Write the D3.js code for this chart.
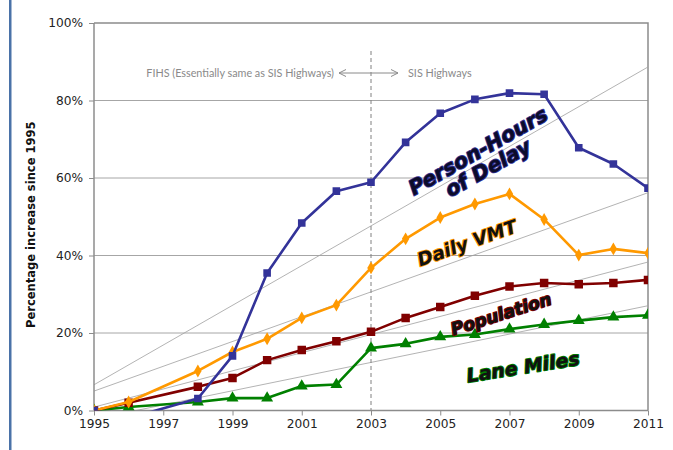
<!DOCTYPE html>
<html>
<head>
<meta charset="utf-8">
<script src="https://cdn.jsdelivr.net/npm/d3@7/dist/d3.min.js"></script>
<style>
  html, body { margin: 0; padding: 0; background: #ffffff; }
  svg { display: block; }
</style>
</head>
<body>
<svg id="chart" width="673" height="450"></svg>
<script>
// Percentage increase since 1995 (no 1997 observation)
const years = [1995, 1996, 1998, 1999, 2000, 2001, 2002, 2003, 2004, 2005, 2006, 2007, 2008, 2009, 2010, 2011];
const delay      = [0, -2.0, 3.1, 14.1, 35.5, 48.4, 56.6, 58.9, 69.2, 76.7, 80.3, 81.9, 81.6, 67.8, 63.6, 57.4];
const dailyVMT   = [0, 2.2, 10.2, 15.1, 18.5, 23.9, 27.2, 36.8, 44.3, 49.8, 53.3, 55.9, 49.3, 40.1, 41.7, 40.6];
const population = [0, 2.0, 6.1, 8.4, 13.0, 15.6, 17.9, 20.3, 23.9, 26.7, 29.6, 32.0, 32.9, 32.6, 32.9, 33.7];
const laneMiles  = [0, 0.9, 2.2, 3.2, 3.2, 6.3, 6.7, 16.1, 17.2, 19.0, 19.6, 21.0, 22.2, 23.2, 24.1, 24.6];

const xTicks = [1995, 1997, 1999, 2001, 2003, 2005, 2007, 2009, 2011];
const yTicks = [0, 20, 40, 60, 80, 100];
const splitYear = 2003;

const series = [
  { name: "delay", values: delay, color: "#333399", symbol: d3.symbolSquare, size: 58 },
  { name: "vmt", values: dailyVMT, color: "#FF9900", symbol: d3.symbolDiamond, size: 48 },
  { name: "population", values: population, color: "#800000", symbol: d3.symbolSquare, size: 72 },
  { name: "lane", values: laneMiles, color: "#008000", symbol: d3.symbolTriangle, size: 62 }
];

const svg = d3.select("#chart");
const plotLeft = 94, plotRight = 648, plotTop = 23, plotBottom = 410.5;

const x = d3.scaleLinear().domain([1995, 2011]).range([plotLeft, plotRight]);
const y = d3.scaleLinear().domain([0, 100]).range([plotBottom, plotTop]);

// page edge rule
svg.append("rect").attr("x", 9).attr("y", 0).attr("width", 2.5).attr("height", 450)
  .attr("fill", "#4a72a8");

svg.append("defs").append("clipPath").attr("id", "plotClip")
  .append("rect").attr("x", plotLeft).attr("y", plotTop)
  .attr("width", plotRight - plotLeft).attr("height", plotBottom - plotTop);

// horizontal gridlines
svg.append("g").selectAll("line").data(yTicks.filter(t => t > 0 && t < 100)).join("line")
  .attr("x1", plotLeft).attr("x2", plotRight)
  .attr("y1", d => y(d)).attr("y2", d => y(d))
  .attr("stroke", "#a6a6a6").attr("stroke-width", 1);

// plot frame (top and right)
svg.append("path")
  .attr("d", `M${plotLeft},${plotTop}H${plotRight}V${plotBottom}`)
  .attr("fill", "none").attr("stroke", "#8c8c8c").attr("stroke-width", 1.5);

// linear trend lines
const tExtent = [1995, 2011];
const trendG = svg.append("g").attr("clip-path", "url(#plotClip)");
series.forEach(s => {
  const mx = d3.mean(years), my = d3.mean(s.values);
  let sxy = 0, sxx = 0;
  years.forEach((yr, i) => { sxy += (yr - mx) * (s.values[i] - my); sxx += (yr - mx) * (yr - mx); });
  const slope = sxy / sxx, icpt = my - slope * mx;
  trendG.append("line")
    .attr("x1", x(tExtent[0])).attr("y1", y(icpt + slope * tExtent[0]))
    .attr("x2", x(tExtent[1])).attr("y2", y(icpt + slope * tExtent[1]))
    .attr("stroke", "#a0a0a0").attr("stroke-width", 0.8);
});

// FIHS / SIS divider
svg.append("line")
  .attr("x1", x(splitYear)).attr("x2", x(splitYear))
  .attr("y1", 51).attr("y2", plotBottom)
  .attr("stroke", "#808080").attr("stroke-width", 1).attr("stroke-dasharray", "4,3");

const noteY = 73;
svg.append("text").attr("x", 334).attr("y", noteY + 3.5)
  .attr("text-anchor", "end").attr("font-family", "Lato, 'Open Sans', sans-serif")
  .attr("font-size", 10.8).attr("fill", "#8a8a8a")
  .text("FIHS (Essentially same as SIS Highways)");
svg.append("text").attr("x", 408).attr("y", noteY + 3.5)
  .attr("font-family", "Lato, 'Open Sans', sans-serif")
  .attr("font-size", 10.8).attr("fill", "#8a8a8a")
  .text("SIS Highways");
const arrowG = svg.append("g").attr("stroke", "#8a8a8a").attr("fill", "none").attr("stroke-width", 1);
arrowG.append("line").attr("x1", 339).attr("x2", 398).attr("y1", noteY).attr("y2", noteY);
arrowG.append("path").attr("d", `M346,${noteY - 3.5}L339,${noteY}L346,${noteY + 3.5}`);
arrowG.append("path").attr("d", `M391,${noteY - 3.5}L398,${noteY}L391,${noteY + 3.5}`);

// axis lines
svg.append("line").attr("x1", plotLeft).attr("x2", plotLeft).attr("y1", plotTop).attr("y2", plotBottom)
  .attr("stroke", "#8c8c8c").attr("stroke-width", 1.5);
svg.append("line").attr("x1", plotLeft).attr("x2", plotRight).attr("y1", plotBottom).attr("y2", plotBottom)
  .attr("stroke", "#8c8c8c").attr("stroke-width", 1.5);

// y axis
const yAxis = d3.axisLeft(y).tickValues(yTicks).tickSize(5).tickPadding(6)
  .tickFormat(d => d + "%");
const yg = svg.append("g").attr("transform", `translate(${plotLeft},0)`).call(yAxis);
yg.select(".domain").remove();
yg.selectAll(".tick line").attr("stroke", "#8c8c8c");
yg.selectAll(".tick text").attr("font-family", "'DejaVu Sans', Verdana, sans-serif")
  .attr("font-size", 12.2).attr("fill", "#222");

// x axis
const xAxis = d3.axisBottom(x).tickValues(xTicks).tickSize(5).tickPadding(4)
  .tickFormat(d3.format("d"));
const xg = svg.append("g").attr("transform", `translate(0,${plotBottom})`).call(xAxis);
xg.select(".domain").remove();
xg.selectAll(".tick line").attr("stroke", "#8c8c8c");
xg.selectAll(".tick text").attr("font-family", "'DejaVu Sans', Verdana, sans-serif")
  .attr("font-size", 12.2).attr("fill", "#222");

// y axis title
svg.append("text")
  .attr("transform", `translate(35,${(plotTop + plotBottom) / 2 + 8}) rotate(-90)`)
  .attr("text-anchor", "middle")
  .attr("font-family", "'DejaVu Sans', Verdana, sans-serif")
  .attr("font-weight", "bold").attr("font-size", 11.5).attr("fill", "#111")
  .text("Percentage increase since 1995");

// series lines and markers
const plotG = svg.append("g").attr("clip-path", "url(#plotClip)");
const line = d3.line().x((d, i) => x(years[i])).y(d => y(d));
const drawOrder = [series[3], series[2], series[1], series[0]];
drawOrder.forEach(s => {
  plotG.append("path").datum(s.values)
    .attr("d", line).attr("fill", "none")
    .attr("stroke", s.color).attr("stroke-width", 2.6).attr("stroke-linejoin", "round");
  plotG.append("g").selectAll("path").data(s.values).join("path")
    .attr("transform", (d, i) => `translate(${x(years[i])},${y(d)})`)
    .attr("d", d3.symbol().type(s.symbol).size(s.size))
    .attr("fill", s.color);
});

// series labels
const labelSpecs = [
  { s: series[0], lines: [{ t: "Person-Hours", cx: 478, cy: 151 }, { t: "of Delay", cx: 488, cy: 168 }], angle: -29.5, size: 20.5, fill: "#0c0c2a" },
  { s: series[1], lines: [{ t: "Daily VMT", cx: 467, cy: 243 }], angle: -19.5, size: 18.5, fill: "#111" },
  { s: series[2], lines: [{ t: "Population", cx: 501, cy: 314 }], angle: -17.5, size: 17.2, fill: "#111" },
  { s: series[3], lines: [{ t: "Lane Miles", cx: 523, cy: 367 }], angle: -9, size: 19, fill: "#111" }
];
labelSpecs.forEach(L => {
  L.lines.forEach(ln => {
    svg.append("text")
      .attr("transform", `translate(${ln.cx},${ln.cy}) rotate(${L.angle})`)
      .attr("text-anchor", "middle").attr("dy", "0.35em")
      .attr("font-family", "'DejaVu Sans', sans-serif")
      .attr("font-weight", "bold").attr("font-style", "italic")
      .attr("font-size", L.size)
      .attr("fill", L.fill)
      .attr("stroke", L.s.color).attr("stroke-width", 1.8)
      .attr("paint-order", "stroke").attr("stroke-linejoin", "round")
      .text(ln.t);
  });
});
</script>
</body>
</html>
